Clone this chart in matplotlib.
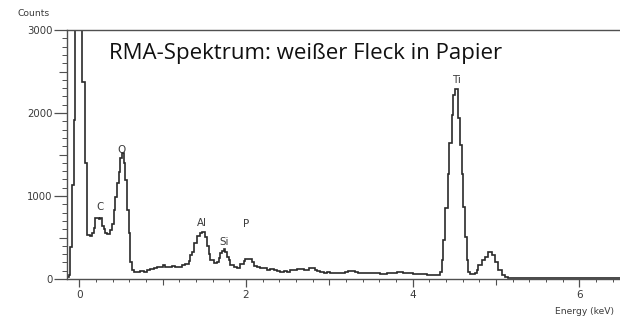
import matplotlib
matplotlib.use("Agg")
import matplotlib.pyplot as plt
from matplotlib.ticker import MultipleLocator, FixedLocator, NullFormatter

# ---- data: step spectrum (bin start edges in keV and counts) ----
bin_starts = [
    -0.15, -0.13, -0.11, -0.09, -0.07, -0.05, 0.035, 0.065, 0.085, 0.13,
    0.15, 0.17, 0.19, 0.23, 0.25, 0.27, 0.29, 0.31, 0.33, 0.37,
    0.39, 0.41, 0.43, 0.45, 0.47, 0.49, 0.51, 0.53, 0.55, 0.57,
    0.59, 0.61, 0.63, 0.65, 0.69, 0.73, 0.77, 0.81, 0.85, 0.89,
    0.93, 0.97, 1.00, 1.03, 1.07, 1.11, 1.15, 1.19, 1.23, 1.27,
    1.31, 1.33, 1.35, 1.37, 1.41, 1.45, 1.47, 1.51, 1.53, 1.55,
    1.57, 1.61, 1.65, 1.67, 1.69, 1.71, 1.73, 1.75, 1.77, 1.79,
    1.81, 1.85, 1.89, 1.93, 1.97, 1.99, 2.03, 2.07, 2.09, 2.13,
    2.17, 2.21, 2.25, 2.29, 2.33, 2.37, 2.41, 2.45, 2.49, 2.53,
    2.57, 2.61, 2.69, 2.75, 2.79, 2.83, 2.85, 2.89, 2.93, 2.97,
    3.01, 3.19, 3.23, 3.31, 3.35, 3.41, 3.45, 3.53, 3.57, 3.61,
    3.69, 3.77, 3.81, 3.89, 3.93, 4.01, 4.09, 4.13, 4.17, 4.25,
    4.33, 4.35, 4.37, 4.39, 4.42, 4.44, 4.47, 4.49, 4.51, 4.55,
    4.57, 4.59, 4.61, 4.63, 4.65, 4.67, 4.69, 4.75, 4.77, 4.79,
    4.83, 4.87, 4.91, 4.95, 4.99, 5.03, 5.07, 5.11, 5.15,
]
spectrum_end = 6.6
counts = [
    20, 50, 390, 1130, 1915, 4000, 2370, 1400, 530, 515,
    560, 620, 735, 720, 730, 640, 600, 560, 545, 590,
    660, 830, 990, 1160, 1290, 1460, 1520, 1400, 1190, 830,
    550, 200, 110, 90, 80, 95, 90, 105, 115, 130,
    140, 150, 170, 150, 140, 155, 145, 150, 165, 185,
    215, 290, 330, 430, 520, 560, 570, 510, 400, 300,
    230, 195, 210, 250, 310, 340, 360, 320, 260, 230,
    170, 140, 130, 175, 220, 240, 235, 200, 160, 140,
    128, 135, 110, 120, 112, 100, 88, 95, 90, 108,
    112, 116, 110, 128, 137, 110, 100, 80, 74, 90,
    76, 85, 100, 90, 76, 70, 68, 74, 68, 65,
    72, 68, 80, 74, 78, 62, 58, 62, 50, 45,
    90, 230, 470, 850, 1270, 1640, 1980, 2220, 2290, 1940,
    1620, 1270, 870, 510, 230, 90, 55, 70, 110, 170,
    230, 270, 320, 290, 210, 110, 50, 20, 10,
]

# peak labels (element, energy keV, counts position)
peak_names = ["C", "O", "Al", "Si", "P", "Ti"]
peak_x = [0.246, 0.51, 1.469, 1.735, 1.999, 4.52]
peak_y = [868, 1555, 675, 446, 663, 2398]

x_major = [0, 2, 4, 6]
x_mid = [1, 3, 5]
y_major = [0, 1000, 2000, 3000]
y_mid = [500, 1500, 2500]

title = "RMA-Spektrum: weißer Fleck in Papier"

# ---- figure ----
W, H = 620, 321
fig = plt.figure(figsize=(W / 100, H / 100), dpi=100)
ax = fig.add_axes([67 / W, 1 - 279 / H, 1 - 67 / W, (279 - 30) / H])

ink = "#2a2a2a"
axc = "#505050"
txt = "#3a3a3a"
tickfont = ["DejaVu Sans"]

edges = bin_starts + [spectrum_end]
ax.stairs(counts, edges, color=ink, lw=1.2, baseline=None)

ax.set_xlim(-0.15, 6.49)
ax.set_ylim(0, 3000)

for s in ["left", "top", "bottom"]:
    ax.spines[s].set_color(axc)
    ax.spines[s].set_linewidth(1.0)
ax.spines["right"].set_visible(False)

ax.xaxis.set_major_locator(FixedLocator(x_major))
ax.xaxis.set_minor_locator(MultipleLocator(0.2))
ax.yaxis.set_major_locator(FixedLocator(y_major))
ax.yaxis.set_minor_locator(MultipleLocator(100))
ax.xaxis.set_minor_formatter(NullFormatter())
ax.yaxis.set_minor_formatter(NullFormatter())

ax.tick_params(axis="y", which="major", length=9.5, width=0.9, color=axc,
               pad=0.8, labelsize=7.3, labelcolor=txt)
ax.tick_params(axis="y", which="minor", length=3.5, width=0.7, color=axc)
ax.tick_params(axis="x", which="major", length=5.5, width=0.9, color=axc,
               pad=2.5, labelsize=7.6, labelcolor=txt)
ax.tick_params(axis="x", which="minor", length=2.2, width=0.7, color=axc)
for lab in ax.get_xticklabels() + ax.get_yticklabels():
    lab.set_fontfamily(tickfont)

# medium ticks
secx = ax.secondary_xaxis("bottom")
secx.xaxis.set_major_locator(FixedLocator(x_mid))
secx.xaxis.set_major_formatter(NullFormatter())
secx.tick_params(length=4.0, width=0.8, color=axc)
secx.spines["bottom"].set_visible(False)
secy = ax.secondary_yaxis("left")
secy.yaxis.set_major_locator(FixedLocator(y_mid))
secy.yaxis.set_major_formatter(NullFormatter())
secy.tick_params(length=5.5, width=0.8, color=axc)
secy.spines["left"].set_visible(False)

for name, px, py in zip(peak_names, peak_x, peak_y):
    ax.text(px, py, name, ha="center", va="center", fontsize=7.4,
            color=txt, family=tickfont)

fig.text(34 / W, 1 - 13 / H, "Counts", ha="center", va="center",
         fontsize=6.6, color=txt, family=tickfont)
fig.text(555 / W, 1 - 311 / H, "Energy (keV)", ha="left", va="center",
         fontsize=6.6, color=txt, family=tickfont)

fig.text(109 / W, 1 - 53 / H, title, ha="left", va="center",
         fontsize=16, color="#111111", family=["Open Sans", "DejaVu Sans"])

fig.savefig("out.png", dpi=100, facecolor="white")
